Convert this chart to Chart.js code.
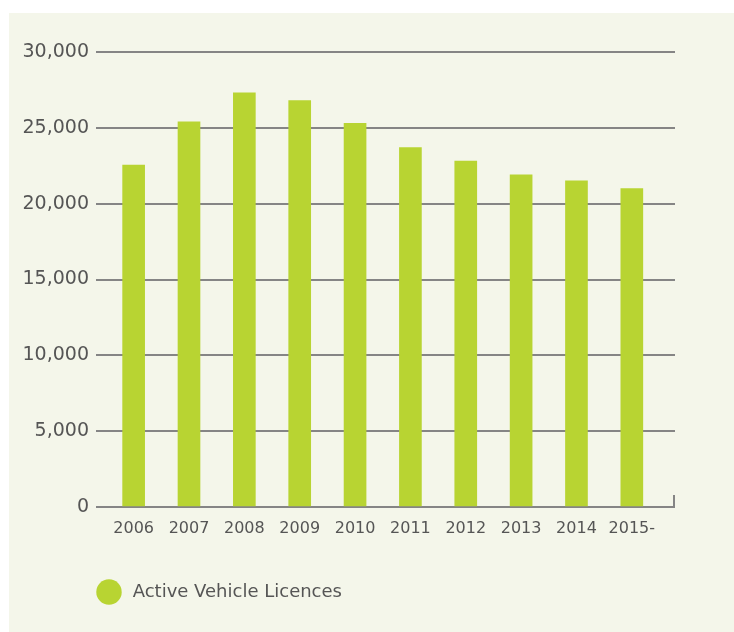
<!DOCTYPE html>
<html>
<head>
<meta charset="utf-8">
<script src="https://cdn.jsdelivr.net/npm/chart.js@4"></script>
<style>
  html, body { margin: 0; padding: 0; background: #ffffff; width: 734px; height: 632px; overflow: hidden; }
  #panel { position: absolute; left: 9px; top: 13px; width: 725px; height: 619px; background: #f4f6ea; }
  #c { display: block; }
</style>
</head>
<body>
<div id="panel"><canvas id="c" width="725" height="619"></canvas></div>
<script>
const years = ['2006', '2007', '2008', '2009', '2010', '2011', '2012', '2013', '2014', '2015-'];
const licences = [22550, 25400, 27300, 26800, 25300, 23700, 22800, 21900, 21500, 21000];
const yTicks = [0, 5000, 10000, 15000, 20000, 25000, 30000];
const seriesName = 'Active Vehicle Licences';

const GREEN = '#b8d432';
const GRID = '#858585';
const TEXT = '#555555';

const points = years.map((_, i) => ({ x: i, y: licences[i] }));

const legendShift = {
  id: 'legendShift',
  afterLayout(chart) {
    const lg = chart.legend;
    const dx = chart.chartArea.left - 6 - lg.left;
    lg.left += dx; lg.right += dx;
  }
};

const endTick = {
  id: 'endTick',
  afterDatasetsDraw(chart) {
    const { ctx, scales } = chart;
    const x = Math.round(scales.x.right) - 1;
    const y0 = scales.y.getPixelForValue(0);
    ctx.save();
    ctx.strokeStyle = GRID;
    ctx.lineWidth = 2;
    ctx.beginPath();
    ctx.moveTo(x, y0);
    ctx.lineTo(x, y0 - 12);
    ctx.stroke();
    ctx.restore();
  }
};

new Chart(document.getElementById('c'), {
  type: 'bar',
  data: {
    datasets: [{
      label: seriesName,
      data: points,
      backgroundColor: GREEN,
      borderWidth: 0,
      barThickness: 22
    }]
  },
  plugins: [legendShift, endTick],
  options: {
    responsive: false,
    animation: false,
    events: [],
    layout: { padding: { left: 0, right: 59, top: 39, bottom: 21 } },
    scales: {
      x: {
        type: 'linear',
        offset: false,
        min: -0.68,
        max: 9.78,
        afterBuildTicks(scale) { scale.ticks = years.map((_, i) => ({ value: i })); },
        afterFit(scale) { scale.height = 66; },
        grid: { display: false, drawTicks: false },
        border: { display: false },
        ticks: {
          padding: 12,
          color: TEXT,
          font: { family: 'DejaVu Sans', size: 16 },
          maxRotation: 0,
          autoSkip: false,
          callback: (v) => years[v]
        }
      },
      y: {
        min: 0,
        max: 30000,
        afterBuildTicks(scale) { scale.ticks = yTicks.map(v => ({ value: v })); },
        afterFit(scale) { scale.width = 87; },
        grid: { color: GRID, lineWidth: 2, drawTicks: false },
        border: { display: false },
        ticks: {
          padding: 7,
          color: TEXT,
          font: { family: 'DejaVu Sans', size: 19 },
          callback: (v) => v.toLocaleString('en-US')
        }
      }
    },
    plugins: {
      tooltip: { enabled: false },
      legend: {
        position: 'bottom',
        align: 'start',
        labels: {
          usePointStyle: true,
          pointStyle: 'circle',
          padding: 10,
          color: TEXT,
          font: { family: 'DejaVu Sans', size: 18 },
          generateLabels(chart) {
            const items = Chart.defaults.plugins.legend.labels.generateLabels(chart);
            items.forEach(it => { it.text = ' ' + it.text; it.lineWidth = 0; it.strokeStyle = GREEN; });
            return items;
          }
        }
      }
    }
  }
});
</script>
</body>
</html>
